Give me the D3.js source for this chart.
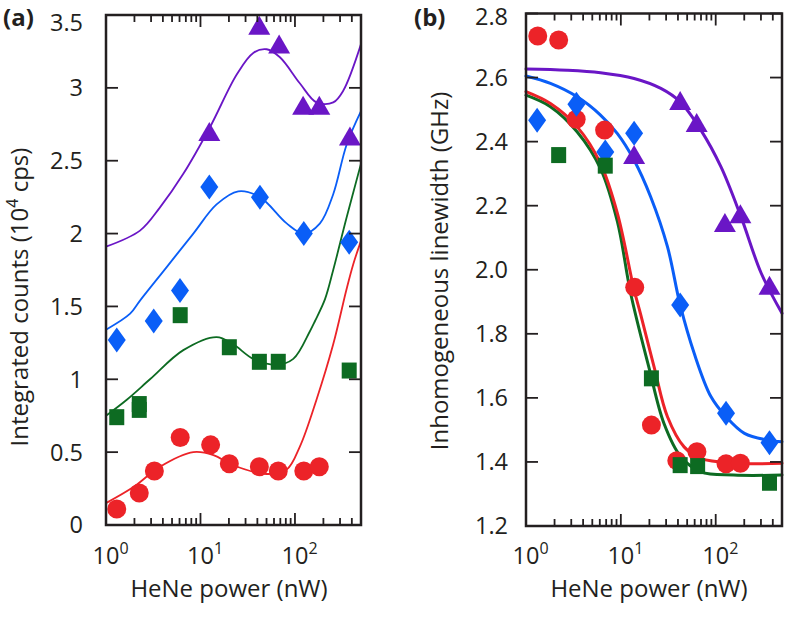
<!DOCTYPE html>
<html>
<head>
<meta charset="utf-8">
<script src="https://cdn.jsdelivr.net/npm/d3@7"></script>
<style>
  html, body { margin: 0; padding: 0; background: #fff; }
  svg { display: block; font-family: "Open Sans", sans-serif; }
</style>
</head>
<body>
<svg id="chart" width="787" height="637"></svg>
<script>
// ---------- Panel (a): integrated counts (10^4 cps) ----------
const aRedX = [1.3, 2.25, 3.25, 6.1, 12.8, 20.2, 42, 66.6, 124, 181];
const aRedY = [0.11, 0.22, 0.37, 0.60, 0.55, 0.42, 0.40, 0.37, 0.37, 0.40];
const aGreenX = [1.3, 2.25, 2.25, 6.1, 20.2, 42, 66.6, 375];
const aGreenY = [0.74, 0.79, 0.83, 1.44, 1.22, 1.12, 1.12, 1.06];
const aBlueX = [1.3, 3.2, 6.07, 12.4, 42.6, 124, 375];
const aBlueY = [1.27, 1.40, 1.61, 2.32, 2.25, 2.00, 1.94];
const aPurpleX = [12.4, 41.9, 68, 122, 181, 382];
const aPurpleY = [2.69, 3.42, 3.29, 2.87, 2.87, 2.66];

const aRedCurveX = [1, 1.95, 3.73, 8.4, 13.7, 22.2, 50.2, 81.7, 113, 169, 254, 352, 414, 500];
const aRedCurveY = [0.15, 0.26, 0.40, 0.50, 0.48, 0.41, 0.35, 0.38, 0.54, 0.86, 1.24, 1.62, 1.79, 1.95];
const aGreenCurveX = [1, 1.66, 2.92, 6.58, 14.8, 22.2, 36.2, 64, 96, 144, 163, 208, 254, 352, 500];
const aGreenCurveY = [0.75, 0.86, 1.00, 1.20, 1.29, 1.24, 1.14, 1.10, 1.14, 1.33, 1.40, 1.55, 1.75, 2.11, 2.48];
const aBlueCurveX = [1, 1.8, 2.29, 4.39, 8.4, 14.8, 25.1, 42.6, 81.7, 124, 184, 254, 352, 500];
const aBlueCurveY = [1.34, 1.45, 1.54, 1.77, 2.00, 2.20, 2.29, 2.25, 2.07, 2.00, 2.07, 2.27, 2.61, 2.84];
const aPurpleCurveX = [1, 2.29, 3.73, 6.58, 12.6, 24.1, 36.2, 50.2, 69.3, 113, 169, 254, 324, 500];
const aPurpleCurveY = [1.91, 2.02, 2.18, 2.41, 2.73, 3.09, 3.24, 3.265, 3.21, 3.03, 2.90, 2.90, 2.98, 3.30];

const aYTicks = [0, 0.5, 1, 1.5, 2, 2.5, 3, 3.5];
const aYTickLabels = ["0", "0.5", "1", "1.5", "2", "2.5", "3", "3.5"];

// ---------- Panel (b): inhomogeneous linewidth (GHz) ----------
const bRedX = [1.33, 2.21, 3.38, 6.74, 14, 21, 38.9, 63.4, 128.5, 182];
const bRedY = [2.73, 2.717, 2.47, 2.436, 1.945, 1.515, 1.404, 1.432, 1.394, 1.396];
const bBlueX = [1.31, 3.4, 6.85, 13.8, 42.2, 128.5, 369];
const bBlueY = [2.467, 2.517, 2.368, 2.426, 1.89, 1.552, 1.46];
const bGreenX = [2.21, 6.85, 21, 42.2, 64.5, 369];
const bGreenY = [2.358, 2.325, 1.661, 1.39, 1.387, 1.335];
const bPurpleX = [13.8, 42.2, 63, 125, 182, 369];
const bPurpleY = [2.355, 2.524, 2.455, 2.143, 2.17, 1.947];

const bRedCurveX = [1, 1.81, 3.47, 6.1, 9.2, 13.8, 16.2, 22.4, 31, 46.4, 69.8, 155, 500];
const bRedCurveY = [2.556, 2.519, 2.446, 2.332, 2.176, 1.937, 1.86, 1.697, 1.541, 1.447, 1.411, 1.396, 1.396];
const bGreenCurveX = [1, 1.81, 3.47, 6.1, 9.2, 12.7, 19.7, 28.5, 43, 69.8, 155, 500];
const bGreenCurveY = [2.545, 2.509, 2.43, 2.316, 2.15, 1.926, 1.697, 1.52, 1.416, 1.369, 1.359, 1.359];
const bBlueCurveX = [1, 1.81, 3.47, 6.1, 9.2, 13.8, 20.6, 31, 42.2, 59.3, 89, 128.5, 201, 355, 500];
const bBlueCurveY = [2.605, 2.582, 2.54, 2.483, 2.425, 2.342, 2.228, 2.072, 1.89, 1.739, 1.604, 1.541, 1.489, 1.468, 1.463];
const bPurpleCurveX = [1, 2.72, 6.1, 13.8, 26.4, 42.2, 69.8, 113.7, 185, 302, 500];
const bPurpleCurveY = [2.627, 2.623, 2.615, 2.597, 2.566, 2.524, 2.436, 2.321, 2.165, 1.989, 1.864];

const bYTicks = [1.2, 1.4, 1.6, 1.8, 2.0, 2.2, 2.4, 2.6, 2.8];
const bYTickLabels = ["1.2", "1.4", "1.6", "1.8", "2.0", "2.2", "2.4", "2.6", "2.8"];

// ---------- shared x axis ----------
const xDomain = [1, 500];
const xMajorTicks = [1, 10, 100];
const xMajorExp = ["0", "1", "2"];
const xMinorTicks = [2,3,4,5,6,7,8,9,20,30,40,50,60,70,80,90,200,300,400];
const xTitle = "HeNe power (nW)";

const C = { red: "#ec2328", green: "#0d6b22", blue: "#0a5ef7", purple: "#6a16c6", ink: "#231f20" };
const tickFont = 23.5, titleFont = 24, supFont = 16;

const svg = d3.select("#chart");

function makePanel(o) {
  const x = d3.scaleLog().domain(xDomain).range([o.left, o.right]);
  const y = d3.scaleLinear().domain(o.yDomain).range([o.bottom, o.top]);
  const g = svg.append("g");

  const line = d3.line().x(d => x(d[0])).y(d => y(d[1])).curve(d3.curveCatmullRom.alpha(0.5));
  o.curves.forEach(c => {
    g.append("path").datum(d3.zip(c[0], c[1])).attr("d", line)
      .attr("fill", "none").attr("stroke", c[2]).attr("stroke-width", o.lineW)
      .attr("stroke-linejoin", "round").attr("stroke-linecap", "round");
  });

  const drawMarkers = (xs, ys, kind, color) => {
    const sel = g.append("g").attr("fill", color);
    d3.zip(xs, ys).forEach(p => {
      const cx = x(p[0]), cy = y(p[1]);
      if (kind === "circle") {
        sel.append("circle").attr("cx", cx).attr("cy", cy).attr("r", 9.5);
      } else if (kind === "square") {
        sel.append("rect").attr("x", cx - 7.5).attr("y", cy - 8).attr("width", 15).attr("height", 16);
      } else if (kind === "diamond") {
        sel.append("path").attr("d", `M${cx},${cy-12.5}L${cx+9},${cy}L${cx},${cy+12.5}L${cx-9},${cy}Z`);
      } else if (kind === "triangle") {
        sel.append("path").attr("d", `M${cx},${cy-11}L${cx+11},${cy+8}L${cx-11},${cy+8}Z`);
      }
    });
  };
  o.markers.forEach(m => drawMarkers(m[0], m[1], m[2], m[3]));

  // axes with inward ticks (drawn via the scales)
  const ax = svg.append("g").attr("stroke", C.ink);
  const major = 12, minor = 7;
  const tick = (x1, y1, x2, y2) => ax.append("line").attr("x1", x1).attr("y1", y1).attr("x2", x2).attr("y2", y2)
      .attr("stroke-width", 1.8);
  xMajorTicks.forEach(v => { const px = x(v); tick(px, o.bottom, px, o.bottom - major); tick(px, o.top, px, o.top + major); });
  xMinorTicks.forEach(v => { const px = x(v); tick(px, o.bottom, px, o.bottom - minor); tick(px, o.top, px, o.top + minor); });
  o.yTicks.forEach(v => { const py = y(v); tick(o.left, py, o.left + major, py); tick(o.right, py, o.right - major, py); });

  ax.append("rect").attr("x", o.left).attr("y", o.top).attr("width", o.right - o.left).attr("height", o.bottom - o.top)
    .attr("fill", "none").attr("stroke-width", 2.5);

  // labels
  const lab = svg.append("g").attr("fill", C.ink);
  const lastI = o.yTicks.length - 1;
  o.yTicks.forEach((v, i) => {
    lab.append("text").attr("x", o.ylabX).attr("y", y(v) + (i === lastI ? o.topLabelShift : 0)).attr("dy", "0.36em")
      .attr("text-anchor", "end").attr("font-size", tickFont).text(o.yLabels[i]);
  });
  xMajorTicks.forEach((v, i) => {
    const t = lab.append("text").attr("x", x(v) - 0.572 * tickFont).attr("y", 564).attr("font-size", tickFont);
    t.append("tspan").text("10");
    t.append("tspan").attr("font-size", supFont).attr("dy", -10).text(xMajorExp[i]);
  });
  lab.append("text").attr("x", o.xTitleX).attr("y", 597).attr("text-anchor", "middle")
    .attr("font-size", titleFont).text(xTitle);
  const yt = lab.append("text").attr("transform", `translate(${o.yTitleX},${o.yTitleY}) rotate(-90)`)
    .attr("text-anchor", "middle").attr("font-size", titleFont);
  o.yTitle(yt);
  lab.append("text").attr("x", o.tagX).attr("y", 26).attr("font-size", 24).attr("font-weight", "bold").text(o.tag);
}

makePanel({
  left: 106, right: 361, top: 15, bottom: 525,
  yDomain: [0, 3.5], yTicks: aYTicks, yLabels: aYTickLabels, topLabelShift: 8,
  ylabX: 83, xTitleX: 229, yTitleX: 28, yTitleY: 297, tagX: 3, tag: "(a)", lineW: 1.8,
  curves: [
    [aPurpleCurveX, aPurpleCurveY, C.purple],
    [aBlueCurveX, aBlueCurveY, C.blue],
    [aGreenCurveX, aGreenCurveY, C.green],
    [aRedCurveX, aRedCurveY, C.red]
  ],
  markers: [
    [aRedX, aRedY, "circle", C.red],
    [aBlueX, aBlueY, "diamond", C.blue],
    [aGreenX, aGreenY, "square", C.green],
    [aPurpleX, aPurpleY, "triangle", C.purple]
  ],
  yTitle: t => {
    t.append("tspan").text("Integrated counts (10");
    t.append("tspan").attr("font-size", supFont).attr("dy", -10).text("4");
    t.append("tspan").attr("dy", 10).text(" cps)");
  }
});

makePanel({
  left: 526, right: 782, top: 13.5, bottom: 526,
  yDomain: [1.2, 2.8], yTicks: bYTicks, yLabels: bYTickLabels, topLabelShift: 3,
  ylabX: 508, xTitleX: 649, yTitleX: 448, yTitleY: 271, tagX: 414, tag: "(b)", lineW: 3,
  curves: [
    [bPurpleCurveX, bPurpleCurveY, C.purple],
    [bBlueCurveX, bBlueCurveY, C.blue],
    [bGreenCurveX, bGreenCurveY, C.green],
    [bRedCurveX, bRedCurveY, C.red]
  ],
  markers: [
    [bRedX, bRedY, "circle", C.red],
    [bBlueX, bBlueY, "diamond", C.blue],
    [bGreenX, bGreenY, "square", C.green],
    [bPurpleX, bPurpleY, "triangle", C.purple]
  ],
  yTitle: t => { t.text("Inhomogeneous linewidth (GHz)"); }
});
</script>
</body>
</html>
